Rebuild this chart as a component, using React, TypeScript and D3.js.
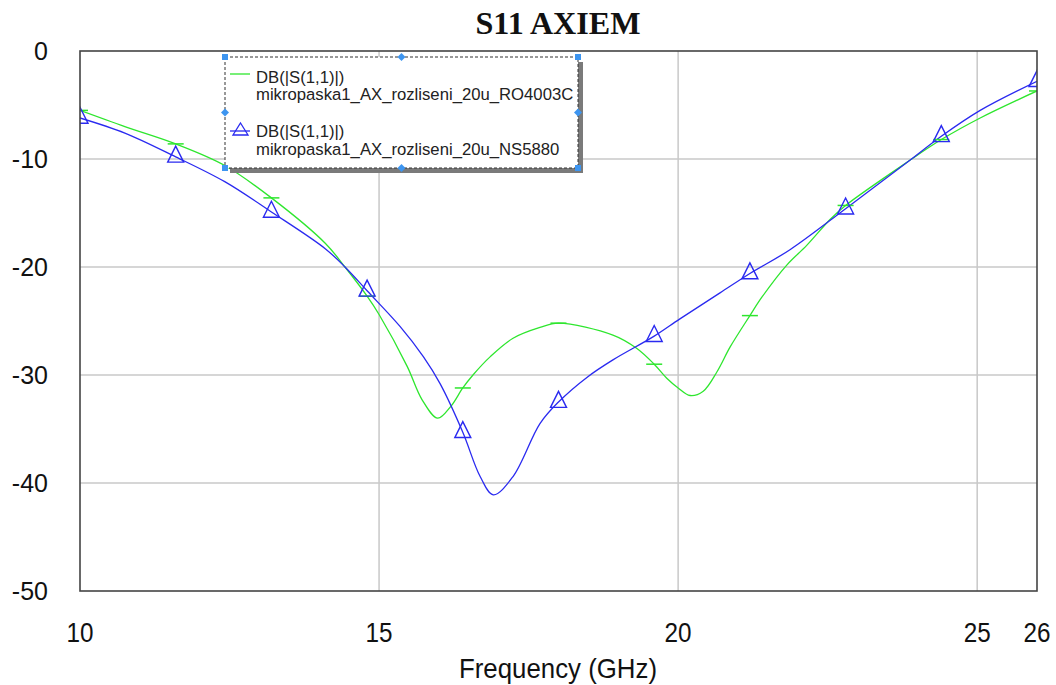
import React from "react";
import * as d3 from "d3";

// Frequency sweep (GHz) and return loss (dB) for the two substrates
const greenFreq = [10, 10.75, 11.6, 12.42, 13.2, 14.1, 14.43, 14.8, 15.0, 15.47, 15.72, 15.98, 16.2, 16.4, 16.57, 16.86, 17.24, 17.69, 18.0, 18.91, 19.3, 19.6, 19.81, 20.0, 20.2, 20.42, 20.65, 20.87, 21.2, 21.4, 21.82, 22.15, 22.54, 22.8, 23.88, 24.4, 25.05, 26];
const greenDb = [-5.5, -7.0, -8.6, -10.6, -13.6, -17.8, -20.0, -22.7, -24.4, -29.2, -32.3, -34.0, -32.9, -31.2, -30.0, -28.3, -26.6, -25.6, -25.2, -26.3, -27.5, -29.0, -30.3, -31.2, -31.9, -31.5, -29.7, -27.4, -24.5, -22.8, -19.8, -18.0, -15.6, -14.3, -10.1, -8.2, -6.2, -3.7];

const blueFreq = [10, 10.75, 11.6, 12.42, 13.2, 14.1, 14.43, 14.8, 15.35, 15.74, 16.02, 16.4, 16.69, 16.91, 17.24, 17.69, 18.0, 18.48, 18.91, 19.6, 20.03, 20.7, 21.2, 21.87, 22.8, 23.88, 24.4, 25.05, 26];
const blueDb = [-6.2, -7.6, -9.8, -12.1, -14.9, -18.3, -20.0, -22.2, -25.5, -28.3, -30.8, -35.3, -39.4, -41.1, -39.4, -34.5, -32.5, -30.2, -28.6, -26.4, -24.8, -22.4, -20.6, -18.4, -14.6, -10.1, -7.9, -5.5, -2.8];

const markerFreqs = [10, 11.6, 13.2, 14.8, 16.4, 18.0, 19.6, 21.2, 22.8, 24.4, 26];

const xTicks = [10, 15, 20, 25, 26];
const yTicks = [0, -10, -20, -30, -40, -50];
const xGrid = [15, 20, 25];
const yGrid = [-10, -20, -30, -40];

const titleText = "S11 AXIEM";
const xAxisTitle = "Frequency (GHz)";
const legendMeasure = "DB(|S(1,1)|)";
const legendGreen = "mikropaska1_AX_rozliseni_20u_RO4003C";
const legendBlue = "mikropaska1_AX_rozliseni_20u_NS5880";

const W = 1056;
const H = 685;
const L = 80, R = 1037, T = 51, B = 591;

const GREEN = "#2ee62e";
const BLUE = "#2a2af0";

type Pt = { f: number; v: number };

export default function App() {
  const x = d3.scaleLinear().domain([10, 26]).range([L, R]);
  const y = d3.scaleLinear().domain([-50, 0]).range([B, T]);

  const green: Pt[] = greenFreq.map((f, i) => ({ f, v: greenDb[i] }));
  const blue: Pt[] = blueFreq.map((f, i) => ({ f, v: blueDb[i] }));

  const line = d3
    .line<Pt>()
    .x((d) => x(d.f))
    .y((d) => y(d.v))
    .curve(d3.curveCatmullRom.alpha(0.5));

  const isMarker = (f: number) => markerFreqs.some((m) => Math.abs(m - f) < 1e-6);
  const tri = (cx: number, cy: number, s: number) => {
    const h = s;
    return `M${cx},${cy - (2 * h) / 3}L${cx + s / 2},${cy + h / 3}L${cx - s / 2},${cy + h / 3}Z`;
  };

  const font = "'Liberation Sans', Arial, sans-serif";
  const lg = { x0: 225, y0: 57, x1: 578, y1: 168 };
  const handle = "#3d95f0";

  return (
    <svg
      width={W}
      height={H}
      style={{ position: "absolute", left: 0, top: 0, background: "#fff" }}
    >
      <defs>
        <clipPath id="plotClip">
          <rect x={L} y={T} width={R - L} height={B - T} />
        </clipPath>
      </defs>
      <rect x={0} y={0} width={W} height={H} fill="#fff" />

      <text
        x={558}
        y={34}
        textAnchor="middle"
        fontFamily="'Liberation Serif', 'Times New Roman', serif"
        fontWeight="bold"
        fontSize={31}
        textLength={165}
        lengthAdjust="spacingAndGlyphs"
        fill="#111"
      >
        {titleText}
      </text>

      {/* grid */}
      {xGrid.map((g) => (
        <line key={"xg" + g} x1={x(g)} x2={x(g)} y1={T} y2={B} stroke="#c8c8c8" strokeWidth={1.5} />
      ))}
      {yGrid.map((g) => (
        <line key={"yg" + g} x1={L} x2={R} y1={y(g)} y2={y(g)} stroke="#c8c8c8" strokeWidth={1.5} />
      ))}

      {/* traces */}
      <g clipPath="url(#plotClip)">
        <path d={line(green) || ""} fill="none" stroke={GREEN} strokeWidth={1.3} />
        <path d={line(blue) || ""} fill="none" stroke={BLUE} strokeWidth={1.3} />
        {green.filter((d) => isMarker(d.f)).map((d) => (
          <line
            key={"gm" + d.f}
            x1={x(d.f) - 8}
            x2={x(d.f) + 8}
            y1={y(d.v)}
            y2={y(d.v)}
            stroke={GREEN}
            strokeWidth={1.5}
          />
        ))}
        {blue.filter((d) => isMarker(d.f)).map((d) => (
          <path key={"bm" + d.f} d={tri(x(d.f), y(d.v), 16)} fill="none" stroke={BLUE} strokeWidth={1.4} />
        ))}
      </g>

      {/* plot frame */}
      <rect x={L} y={T} width={R - L} height={B - T} fill="none" stroke="#444" strokeWidth={1.6} />

      {/* y tick labels */}
      {yTicks.map((t) => (
        <text
          key={"yt" + t}
          x={48}
          y={y(t)}
          dy="0.36em"
          textAnchor="end"
          fontFamily={font}
          fontSize={25}
          fill="#111"
        >
          {t}
        </text>
      ))}

      {/* x tick labels */}
      {xTicks.map((t) => (
        <text
          key={"xt" + t}
          x={x(t)}
          y={642}
          textAnchor="middle"
          fontFamily={font}
          fontSize={27}
          fill="#111"
          transform={`translate(${x(t)},0) scale(0.9,1) translate(${-x(t)},0)`}
        >
          {t}
        </text>
      ))}

      <text
        x={558}
        y={678}
        textAnchor="middle"
        fontFamily={font}
        fontSize={28}
        fill="#111"
        textLength={198}
        lengthAdjust="spacingAndGlyphs"
      >
        {xAxisTitle}
      </text>

      {/* legend */}
      <g>
        <rect x={lg.x0 + 5} y={lg.y0 + 5} width={lg.x1 - lg.x0} height={lg.y1 - lg.y0} fill="#7a7a7a" />
        <rect x={lg.x0} y={lg.y0} width={lg.x1 - lg.x0} height={lg.y1 - lg.y0} fill="#fff" />
        <rect
          x={lg.x0}
          y={lg.y0}
          width={lg.x1 - lg.x0}
          height={lg.y1 - lg.y0}
          fill="none"
          stroke="#333"
          strokeWidth={1}
          strokeDasharray="3,2"
        />
        <line x1={230} x2={250} y1={74} y2={74} stroke={GREEN} strokeWidth={1.3} />
        <text x={256} y={83} fontFamily={font} fontSize={16.7} fill="#222">{legendMeasure}</text>
        <text x={256} y={100} fontFamily={font} fontSize={16.7} fill="#222">{legendGreen}</text>
        <line x1={230} x2={250} y1={131} y2={131} stroke={BLUE} strokeWidth={1.3} />
        <path d="M240.5,123L248,135L233,135Z" fill="none" stroke={BLUE} strokeWidth={1.3} />
        <text x={256} y={137} fontFamily={font} fontSize={16.7} fill="#222">{legendMeasure}</text>
        <text x={256} y={155} fontFamily={font} fontSize={16.7} fill="#222">{legendBlue}</text>

        {/* selection handles */}
        {[
          [lg.x0, lg.y0],
          [lg.x1, lg.y0],
          [lg.x0, lg.y1],
          [lg.x1, lg.y1],
        ].map(([hx, hy], i) => (
          <rect key={"hs" + i} x={hx - 3} y={hy - 3} width={6} height={6} fill={handle} />
        ))}
        {[
          [(lg.x0 + lg.x1) / 2, lg.y0],
          [(lg.x0 + lg.x1) / 2, lg.y1],
          [lg.x0, (lg.y0 + lg.y1) / 2],
          [lg.x1, (lg.y0 + lg.y1) / 2],
        ].map(([hx, hy], i) => (
          <path key={"hd" + i} d={`M${hx},${hy - 4}L${hx + 4},${hy}L${hx},${hy + 4}L${hx - 4},${hy}Z`} fill={handle} />
        ))}
      </g>
    </svg>
  );
}
